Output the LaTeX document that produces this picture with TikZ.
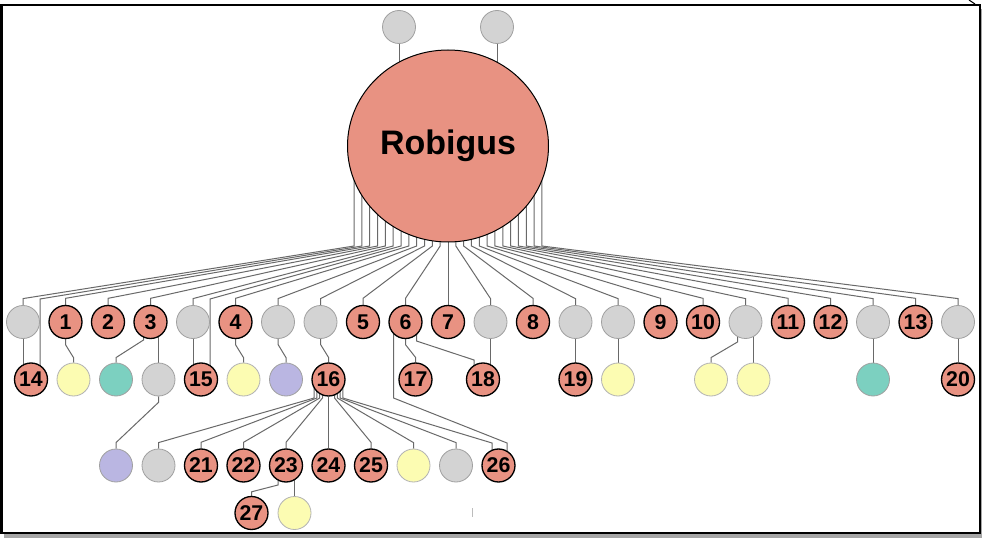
\documentclass[tikz,border=0pt]{standalone}
\usepackage{fontspec}
\setmainfont{Liberation Sans}
\usetikzlibrary{calc,shapes.geometric,backgrounds}
\definecolor{salm}{RGB}{232,146,130}
\definecolor{grayfill}{RGB}{211,211,211}
\definecolor{grayline}{RGB}{160,160,160}
\definecolor{yelfill}{RGB}{252,252,178}
\definecolor{tealfill}{RGB}{124,208,192}
\definecolor{purpfill}{RGB}{186,182,226}
\definecolor{linec}{RGB}{105,105,105}
\begin{document}
\begin{tikzpicture}[x=0.75pt,y=-0.75pt,
  base/.style={circle, minimum size=24.75pt, inner sep=0pt},
  num/.style={base, fill=salm, draw=black, line width=1pt, font=\bfseries\fontsize{16}{16}\selectfont},
  grayn/.style={base, fill=grayfill, draw=grayline, line width=0.6pt},
  yeln/.style={base, fill=yelfill, draw=grayline!80, line width=0.6pt},
  tealn/.style={base, fill=tealfill, draw=grayline, line width=0.6pt},
  purpn/.style={base, fill=purpfill, draw=grayline, line width=0.6pt},
  conn/.style={draw=linec, line width=0.75pt},
  frame/.style={draw=black, line width=2pt, fill=white}]
\useasboundingbox (0,0) rectangle (982,538);
% root and top
\node[ellipse, fill=salm, draw=black, line width=0.75pt, minimum width=150.75pt, minimum height=144pt, inner sep=0pt,
  font=\bfseries\fontsize{25.5}{25.5}\selectfont] (rob) at (448,146) {Robigus};
\node[grayn] (gt1) at (399,27) {};
\node[grayn] (gt2) at (497,27) {};
% row 1
\node[grayn] (g0) at (23,322) {};
\node[num] (n1) at (65.5,322) {1};
\node[num] (n2) at (108,322) {2};
\node[num] (n3) at (150.5,322) {3};
\node[grayn] (g4) at (193,322) {};
\node[num] (n4) at (235.5,322) {4};
\node[grayn] (g6) at (278,322) {};
\node[grayn] (g7) at (320.5,322) {};
\node[num] (n5) at (363,322) {5};
\node[num] (n6) at (405.5,322) {6};
\node[num] (n7) at (448,322) {7};
\node[grayn] (g11) at (490.5,322) {};
\node[num] (n8) at (533,322) {8};
\node[grayn] (g13) at (575.5,322) {};
\node[grayn] (g14) at (618,322) {};
\node[num] (n9) at (660.5,322) {9};
\node[num] (n10) at (703,322) {10};
\node[grayn] (g17) at (745.5,322) {};
\node[num] (n11) at (788,322) {11};
\node[num] (n12) at (830.5,322) {12};
\node[grayn] (g20) at (873,322) {};
\node[num] (n13) at (915.5,322) {13};
\node[grayn] (g22) at (958,322) {};
% row 2
\node[num] (n14) at (31,379.5) {14};
\node[yeln] (y1) at (73.5,379.5) {};
\node[tealn] (t1) at (116,379.5) {};
\node[grayn] (g2) at (158.5,379.5) {};
\node[num] (n15) at (201,379.5) {15};
\node[yeln] (y2) at (243.5,379.5) {};
\node[purpn] (p1) at (286,379.5) {};
\node[num] (n16) at (328.5,379.5) {16};
\node[num] (n17) at (415.5,379.5) {17};
\node[num] (n18) at (483,379.5) {18};
\node[num] (n19) at (575.5,379.5) {19};
\node[yeln] (y3) at (618,379.5) {};
\node[yeln] (y4) at (711,379.5) {};
\node[yeln] (y5) at (753.5,379.5) {};
\node[tealn] (t2) at (873,379.5) {};
\node[num] (n20) at (958,379.5) {20};
% row 3
\node[purpn] (p2) at (116,465.5) {};
\node[grayn] (g8) at (158.5,465.5) {};
\node[num] (n21) at (201,465.5) {21};
\node[num] (n22) at (243.5,465.5) {22};
\node[num] (n23) at (286,465.5) {23};
\node[num] (n24) at (328.5,465.5) {24};
\node[num] (n25) at (371,465.5) {25};
\node[yeln] (y6) at (413.5,465.5) {};
\node[grayn] (g9) at (456,465.5) {};
\node[num] (n26) at (498.5,465.5) {26};
% row 4
\node[num] (n27) at (251.5,513) {27};
\node[yeln] (y7) at (294.5,513) {};
\coordinate (m1) at (472.5,508);
\coordinate (m2) at (472.5,517);
\coordinate (m3) at (969,0);
\coordinate (m4) at (975,4);
\begin{scope}[on background layer]
  \fill[black!35] (4,9) rectangle (982,538);
  \draw[frame] (1.5,5) rectangle (980,533);
  \draw[black, line width=0.8pt] (m3) -- (m4);
  \draw[grayline!70, line width=0.6pt] (m1) -- (m2);
  % top circles
  \draw[conn] (gt1.south) -- (gt1.south |- rob.center);
  \draw[conn] (gt2.south) -- (gt2.south |- rob.center);
  % root to row 1
  \foreach \t/\k in {g0/-12, n1/-10, n2/-9, n3/-8, g4/-7, n4/-5, g6/-4, g7/-3, n5/-2, n6/-1,
                     g11/1, n8/2, g13/3, g14/4, n9/5, n10/6, g17/7, n11/8, n12/9, g20/10, n13/11, g22/12}
    \draw[conn] ($(rob.center)+(\k*7.83,0)$) -- ($(rob.center)+(\k*7.83,100)$) -- ($(\t.north)+(0,-6.5)$) -- (\t.north);
  \foreach \t/\k in {n14/-11, n15/-6}
    \draw[conn] ($(rob.center)+(\k*7.83,0)$) -- ($(rob.center)+(\k*7.83,100)$) -- ($(\t.center)+(9,-80.5)$) -- ($(\t.center)+(9,0)$);
  \draw[conn] (rob.center) -- (n7.north);
  % row 1 to row 2
  \draw[conn] (g0.center) -- (g0.center |- n14.center);
  \draw[conn] (n1.south) -- ++(0,5.5) -- ($(y1.north)+(0,-5)$) -- (y1.north);
  \draw[conn] ($(n3.center)+(-7,0)$) -- ($(n3.center)+(-7,18)$) -- ($(t1.north)+(0,-5)$) -- (t1.north);
  \draw[conn] (g2.north |- n3.center) -- (g2.north);
  \draw[conn] (g4.center) -- (g4.center |- n15.center);
  \draw[conn] (n4.south) -- ++(0,5.5) -- ($(y2.north)+(0,-5)$) -- (y2.north);
  \draw[conn] (g6.south) -- ++(0,5.5) -- ($(p1.north)+(0,-5)$) -- (p1.north);
  \draw[conn] (g7.south) -- ++(0,5.5) -- ($(n16.north)+(0,-5)$) -- (n16.north);
  \draw[conn] (n6.south) -- ++(0,5.5) -- ($(n17.north)+(0,-5)$) -- (n17.north);
  \draw[conn] ($(n6.center)+(11,0)$) -- ($(n6.center)+(11,19)$) -- ($(n18.center)+(-9,-19.5)$) -- ($(n18.center)+(-9,0)$);
  \draw[conn] (g11.center) -- (g11.center |- n18.center);
  \draw[conn] ($(n6.center)+(-12,0)$) -- ($(n6.center)+(-12,76)$) -- ($(n26.center)+(8.5,-22.5)$) -- ($(n26.center)+(8.5,0)$);
  \draw[conn] (g13.center) -- (g13.center |- n19.center);
  \draw[conn] (g14.south) -- (y3.north);
  \draw[conn] ($(g17.center)+(-8,0)$) -- ($(g17.center)+(-8,20)$) -- ($(y4.north)+(0,-5)$) -- (y4.north);
  \draw[conn] (y5.north |- g17.center) -- (y5.north);
  \draw[conn] (g20.south) -- (t2.north);
  \draw[conn] (g22.south) -- (n20.north);
  % row 2 to row 3
  \draw[conn] (g2.south) -- ++(0,6) -- ($(p2.north)+(0,-6)$) -- (p2.north);
  \foreach \t/\d in {g8/-14.4, n21/-11.6, n22/-8.8, n23/-6, n25/6, y6/8.8, g9/11.6}
    \draw[conn] ($(n16.center)+(\d,0)$) -- ($(n16.center)+(\d,18.5)$) -- ($(\t.north)+(0,-6)$) -- (\t.north);
  \draw[conn] ($(n16.center)+(14.4,0)$) -- ($(n16.center)+(14.4,18.5)$) -- ($(n26.center)+(-6.5,-22.5)$) -- ($(n26.center)+(-6.5,0)$);
  \draw[conn] (n16.south) -- (n24.north);
  % row 3 to row 4
  \draw[conn] ($(n23.center)+(-8,0)$) -- ($(n23.center)+(-8,19.5)$) -- ($(n27.north)+(0,-4)$) -- (n27.north);
  \draw[conn] (y7.north |- n23.center) -- (y7.north);
\end{scope}
\end{tikzpicture}
\end{document}
